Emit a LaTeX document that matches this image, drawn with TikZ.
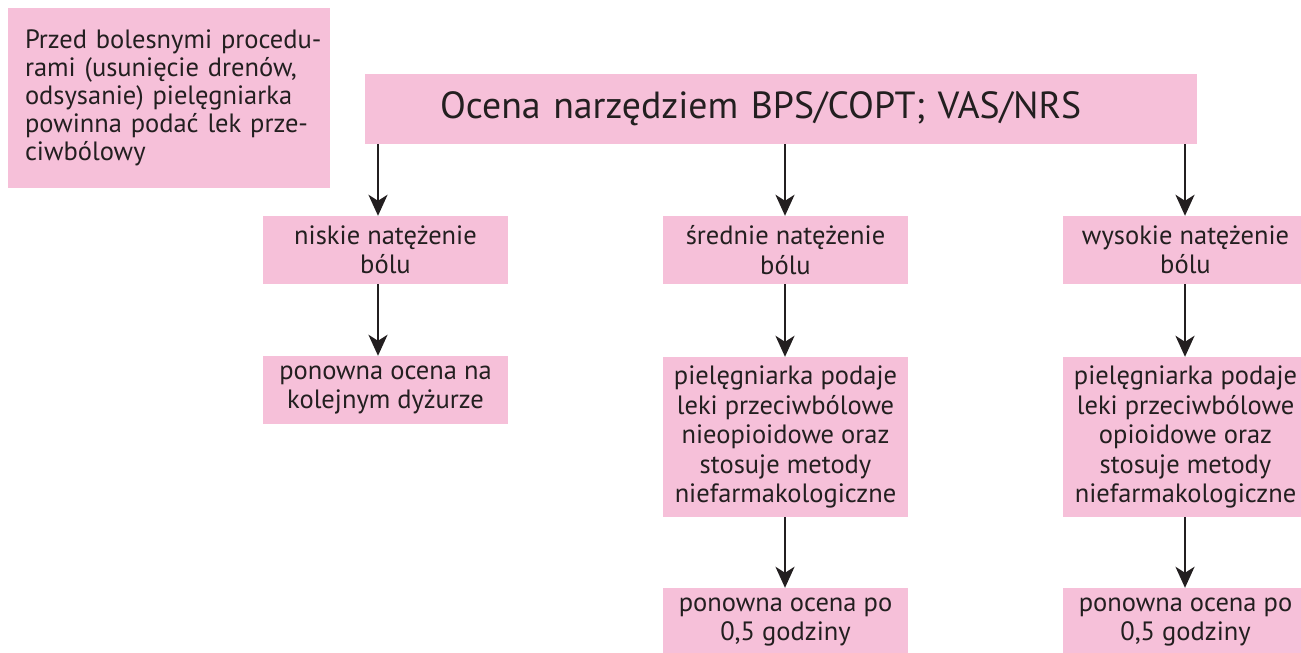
\documentclass[tikz,border=0pt]{standalone}
\usepackage{fontspec}
\setmainfont{PT Sans}
\usetikzlibrary{arrows.meta}
\definecolor{boxpink}{RGB}{246,192,217}
\definecolor{inkgray}{RGB}{35,31,32}
\tikzset{
  pbox/.style={fill=boxpink, draw=none, text=inkgray, font=\fontsize{26.5}{29.5}\selectfont,
    align=center, minimum width=245pt, inner sep=0pt},
  arr/.style={draw=inkgray, line width=2.6pt, -{Stealth[length=21pt,width=19pt,inset=6pt]}},
}
\begin{document}
\begin{tikzpicture}[x=1pt,y=-1pt]
\useasboundingbox (0,0) rectangle (1301,653);
\clip (0,0) rectangle (1301,653);
\node[pbox, font=\fontsize{26.5}{28}\selectfont, minimum width=322pt, minimum height=180pt, text width=288pt, inner xsep=17pt, align=left] (note) at (169,98)
  {\mbox{Przed bolesnymi procedu-}\\\mbox{rami (usunięcie drenów,}\\\mbox{odsysanie) pielęgniarka}\\\mbox{powinna podać lek prze-}\\\mbox{ciwbólowy}};
\node[pbox, font=\fontsize{37.8}{40}\selectfont, minimum height=70pt, text width=682pt, inner xsep=75pt, align=left] (top) at (781,109)
  {Ocena narzędziem BPS/COPT; VAS/NRS};
\node[pbox, minimum height=68pt] (n1) at (385.5,250) {niskie natężenie\\bólu};
\node[pbox, minimum height=68pt] (n2) at (385.5,390) {ponowna ocena na\\kolejnym dyżurze};
\node[pbox, minimum height=68pt] (s1) at (785.5,250) {średnie natężenie\\bólu};
\node[pbox, minimum height=160pt] (s2) at (785.5,437) {pielęgniarka podaje\\leki przeciwbólowe\\nieopioidowe oraz\\stosuje metody\\niefarmakologiczne};
\node[pbox, minimum height=68pt] (s3) at (785.5,622) {ponowna ocena po\\0,5 godziny};
\node[pbox, minimum height=68pt] (w1) at (1185.5,250) {wysokie natężenie\\bólu};
\node[pbox, minimum height=160pt] (w2) at (1185.5,437) {pielęgniarka podaje\\leki przeciwbólowe\\opioidowe oraz\\stosuje metody\\niefarmakologiczne};
\node[pbox, minimum height=68pt] (w3) at (1185.5,622) {ponowna ocena po\\0,5 godziny};
\draw[arr] (top.south -| 378,0) -- (n1.north -| 378,0);
\draw[arr] (n1.south -| 378,0) -- (n2.north -| 378,0);
\draw[arr] (top.south -| 785,0) -- (s1.north -| 785,0);
\draw[arr] (s1.south -| 785,0) -- (s2.north -| 785,0);
\draw[arr] (s2.south -| 785,0) -- (s3.north -| 785,0);
\draw[arr] (top.south -| 1185,0) -- (w1.north -| 1185,0);
\draw[arr] (w1.south -| 1185,0) -- (w2.north -| 1185,0);
\draw[arr] (w2.south -| 1185,0) -- (w3.north -| 1185,0);
\end{tikzpicture}
\end{document}
